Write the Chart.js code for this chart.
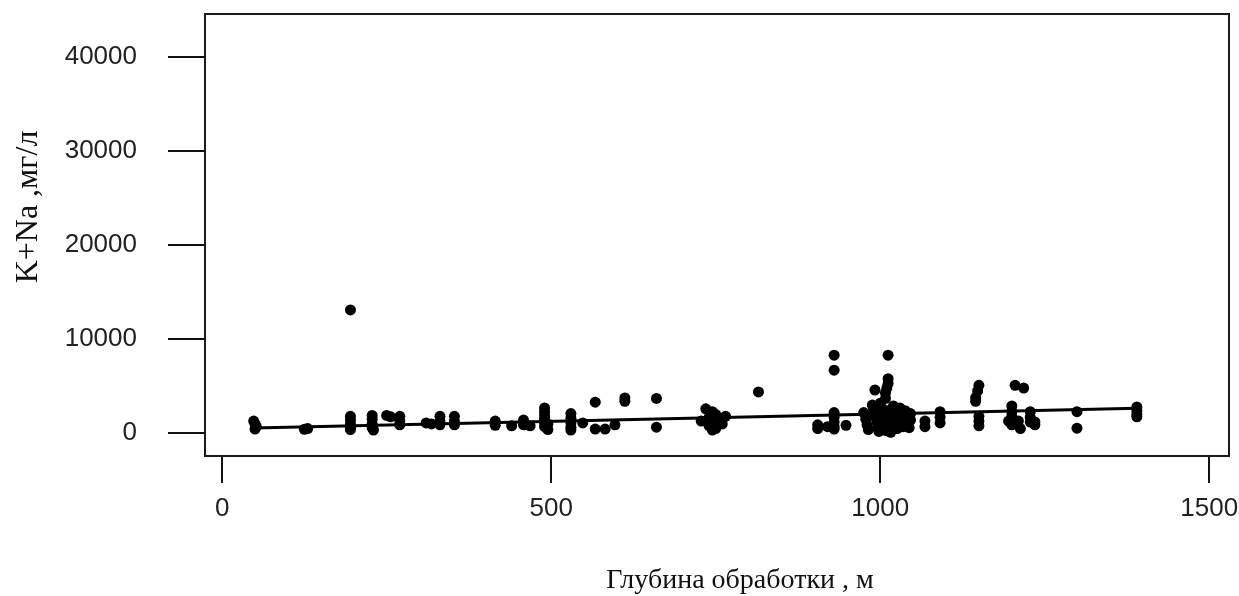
<!DOCTYPE html>
<html>
<head>
<meta charset="utf-8">
<script src="https://cdn.jsdelivr.net/npm/chart.js@4.4.1/dist/chart.umd.min.js"></script>
<style>
html,body{margin:0;padding:0;background:#fff;}
#wrap{width:1239px;height:596px;}
</style>
</head>
<body>
<div id="wrap"><canvas id="c" width="1239" height="596"></canvas></div>
<script>
// ---- data ----
const depth = [
  48,50,52,50, 125,130,
  195,195,195,195,195,195,
  228,228,228,228,230, 250,256,
  270,270,270, 310,318,
  331,331,331, 353,353,353,
  415,415, 440, 458,458, 468,
  490,490,490,490,490,490,495,495,
  530,530,530,530,530, 548,
  567,567, 582, 597, 612,612, 660,660,
  728,735,740,740,745,745,745,750,750,755,760,765,
  815, 905,905, 920,
  930,930,930,930,930,930,930, 948,
  992, 1012,1012,1012,1010,1008,1008,
  975,978,980,982,988,990,992,995,996,998,
  1000,1002,1004,1005,1006,1008,1010,1012,1014,1015,1016,
  1020,1022,1024,1025,1026,1030,1032,1034,1035,1038,1040,1042,1044,1046,1046,
  1068,1068, 1091,1091,1091,
  1150,1148,1145,1145,1150,1150,1150,
  1205,1218, 1200,1200,1200,1195,1200, 1213,1210,
  1228,1228,1228, 1235,1235,
  1299,1299,
  1390,1390,1390,1390
];
const kna = [
  1300,1000,700,450, 420,500,
  13100,1800,1400,1000,650,400,
  1900,1500,1000,600,350, 1900,1750,
  1800,1300,900, 1100,1000,
  1800,1300,900, 1800,1300,900,
  1300,850, 800, 1400,900, 800,
  2700,2300,1900,1500,1100,700,400,1000,
  2100,1600,1100,650,350, 1100,
  3300,450, 450, 900, 3400,3750, 3700,650,
  1300,2600,1700,800,2300,1200,350,2000,500,1500,1000,1800,
  4400, 900,500, 700,
  8300,6700,2200,1700,1200,700,450, 850,
  4600, 8300,5800,5300,4800,4300,3700,
  2200,1500,900,400,3000,2500,1800,1200,600,200,
  3200,2700,2100,1500,900,300,2400,1700,1100,600,100,
  2900,2300,1600,1000,500,2700,2000,1300,700,2400,1800,1200,600,2100,1400,
  1300,700, 2300,1700,1100,
  5100,4500,3800,3400,1800,1300,800,
  5100,4800, 2900,2300,1800,1300,900, 500,1300,
  2300,1700,1200, 1200,900,
  2300,550,
  2800,2400,2000,1750
];
const trendX = [48, 1390];
const trendY = [560, 2650];
const xTicks = [0, 500, 1000, 1500];
const yTicks = [0, 10000, 20000, 30000, 40000];
const xTitle = 'Глубина обработки , м';
const yTitle = 'K+Na ,мг/л';

const points = depth.map((d, i) => ({x: d, y: kna[i]}));
const trend = trendX.map((d, i) => ({x: d, y: trendY[i]}));

const frame = {
  id: 'frame',
  beforeDraw(chart) {
    const ctx = chart.ctx;
    ctx.save();
    ctx.fillStyle = '#fff';
    ctx.fillRect(0, 0, chart.width, chart.height);
    ctx.restore();
  },
  afterDraw(chart) {
    const ctx = chart.ctx, a = chart.chartArea;
    ctx.save();
    ctx.strokeStyle = '#1a1a1a';
    ctx.lineWidth = 2;
    ctx.strokeRect(a.left, a.top, a.right - a.left, a.bottom - a.top);
    ctx.fillStyle = '#111';
    ctx.font = '28px "Liberation Serif", "DejaVu Serif", serif';
    ctx.textAlign = 'center';
    ctx.textBaseline = 'alphabetic';
    ctx.fillText(xTitle, 740, 588);
    ctx.translate(37, 207);
    ctx.rotate(-Math.PI / 2);
    ctx.font = '32px "Liberation Serif", "DejaVu Serif", serif';
    ctx.fillText(yTitle, 0, 0);
    ctx.restore();
  }
};

const tickFont = {family: '"Liberation Sans", Arial, sans-serif', size: 26};
const noPad = s => { s.paddingTop = 0; s.paddingBottom = 0; s.paddingLeft = 0; s.paddingRight = 0; };

new Chart(document.getElementById('c'), {
  type: 'scatter',
  data: {
    datasets: [
      {type: 'line', data: trend, borderColor: '#000', borderWidth: 3, pointRadius: 0, fill: false, order: 1},
      {data: points, backgroundColor: '#000', borderWidth: 0, pointRadius: 5.5, pointHoverRadius: 5.5, order: 2}
    ]
  },
  options: {
    responsive: false,
    animation: false,
    events: [],
    layout: {padding: {left: 0, right: 10, top: 14, bottom: 0}},
    plugins: {legend: {display: false}, tooltip: {enabled: false}},
    scales: {
      x: {
        type: 'linear', min: -26, max: 1530,
        afterBuildTicks: s => { s.ticks = xTicks.map(v => ({value: v})); },
        afterFit: s => { s.height = 140; noPad(s); },
        grid: {drawOnChartArea: false, drawTicks: true, tickLength: 27, color: '#111', lineWidth: 2},
        border: {display: false},
        ticks: {font: tickFont, color: '#222', padding: 10, maxRotation: 0, autoSkip: false, callback: v => String(v)}
      },
      y: {
        type: 'linear', min: -2410, max: 44530,
        afterBuildTicks: s => { s.ticks = yTicks.map(v => ({value: v})); },
        afterFit: s => { s.width = 205; noPad(s); },
        grid: {drawOnChartArea: false, drawTicks: true, tickLength: 37, color: '#111', lineWidth: 2},
        border: {display: false},
        ticks: {font: tickFont, color: '#222', padding: 31, autoSkip: false, callback: v => String(v)}
      }
    }
  },
  plugins: [frame]
});
</script>
</body>
</html>
